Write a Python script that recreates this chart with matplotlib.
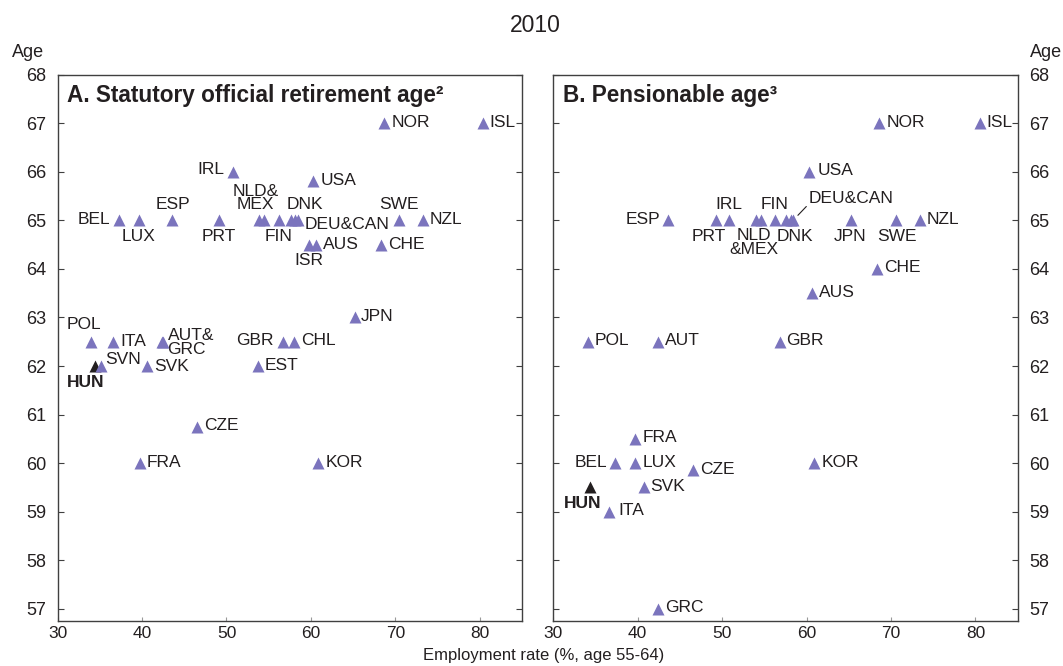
import matplotlib
matplotlib.use("Agg")
import matplotlib.pyplot as plt

plt.rcParams['font.family'] = ['Liberation Sans', 'DejaVu Sans']

MARKER_COLOR = '#7b74bd'
HUN_COLOR = '#231f20'
SPINE_COLOR = '#404040'
TEXT_COLOR = '#231f20'

# Panel A: statutory official retirement age
a_names = ['BEL', 'LUX', 'ESP', 'PRT', 'IRL', 'NLD', 'MEX', 'FIN', 'DNK', 'DEU', 'CAN',
           'USA', 'ISR', 'AUS', 'CHE', 'SWE', 'NZL', 'NOR', 'ISL',
           'POL', 'ITA', 'AUT', 'GRC', 'HUN', 'SVN', 'SVK', 'GBR', 'CHL', 'EST',
           'JPN', 'CZE', 'FRA', 'KOR']
a_emp = [37.3, 39.6, 43.6, 49.1, 50.8, 53.9, 54.5, 56.2, 57.6, 58.1, 58.5,
         60.3, 59.8, 60.6, 68.3, 70.4, 73.3, 68.7, 80.4,
         34.0, 36.6, 42.3, 42.5, 34.4, 35.1, 40.6, 56.7, 58.0, 53.7,
         65.2, 46.5, 39.7, 60.9]
a_age = [65, 65, 65, 65, 66, 65, 65, 65, 65, 65, 65,
         65.8, 64.5, 64.5, 64.5, 65, 65, 67, 67,
         62.5, 62.5, 62.5, 62.5, 62, 62, 62, 62.5, 62.5, 62,
         63, 60.75, 60, 60]

# Panel B: pensionable age
b_names = ['ESP', 'PRT', 'IRL', 'NLD', 'MEX', 'FIN', 'DNK', 'DEU', 'CAN',
           'USA', 'JPN', 'SWE', 'NZL', 'NOR', 'ISL', 'CHE', 'AUS',
           'POL', 'AUT', 'GBR', 'FRA', 'BEL', 'LUX', 'CZE', 'KOR',
           'SVK', 'HUN', 'ITA', 'GRC']
b_emp = [43.6, 49.3, 50.8, 54.0, 54.6, 56.2, 57.6, 58.1, 58.4,
         60.3, 65.2, 70.6, 73.4, 68.6, 80.5, 68.3, 60.6,
         34.1, 42.4, 56.8, 39.7, 37.3, 39.7, 46.6, 60.9,
         40.7, 34.4, 36.6, 42.4]
b_age = [65, 65, 65, 65, 65, 65, 65, 65, 65,
         66, 65, 65, 65, 67, 67, 64, 63.5,
         62.5, 62.5, 62.5, 60.5, 60, 60, 59.85, 60,
         59.5, 59.5, 59, 57]

# label placement: text, (dx, dy) in pixels, ha, va
a_labels = {
    'BEL': ('BEL', (-9, 1), 'right', 'center'),
    'LUX': ('LUX', (0, -16), 'center', 'center'),
    'ESP': ('ESP', (0, 16), 'center', 'center'),
    'PRT': ('PRT', (0, -16), 'center', 'center'),
    'IRL': ('IRL', (-9, 2), 'right', 'center'),
    'NLD': ('NLD&\nMEX', (-4, 8), 'center', 'bottom'),
    'FIN': ('FIN', (0, -16), 'center', 'center'),
    'DNK': ('DNK', (14, 16), 'center', 'center'),
    'CAN': ('DEU&CAN', (6, -4), 'left', 'center'),
    'USA': ('USA', (7, 1), 'left', 'center'),
    'ISR': ('ISR', (0, -16), 'center', 'center'),
    'AUS': ('AUS', (7, 0), 'left', 'center'),
    'CHE': ('CHE', (7, 0), 'left', 'center'),
    'SWE': ('SWE', (0, 16), 'center', 'center'),
    'NZL': ('NZL', (7, 1), 'left', 'center'),
    'NOR': ('NOR', (7, 1), 'left', 'center'),
    'ISL': ('ISL', (6, 1), 'left', 'center'),
    'POL': ('POL', (-8, 17), 'center', 'center'),
    'ITA': ('ITA', (7, 0), 'left', 'center'),
    'AUT': ('AUT&\nGRC', (6, -1), 'left', 'center'),
    'HUN': ('HUN', (-9, -16), 'center', 'center'),
    'SVN': ('SVN', (4, 7), 'left', 'center'),
    'SVK': ('SVK', (7, 0), 'left', 'center'),
    'GBR': ('GBR', (-9, 1), 'right', 'center'),
    'CHL': ('CHL', (7, 1), 'left', 'center'),
    'EST': ('EST', (7, 1), 'left', 'center'),
    'JPN': ('JPN', (6, 1), 'left', 'center'),
    'CZE': ('CZE', (7, 1), 'left', 'center'),
    'FRA': ('FRA', (7, 1), 'left', 'center'),
    'KOR': ('KOR', (7, 1), 'left', 'center'),
}
b_labels = {
    'ESP': ('ESP', (-8, 1), 'right', 'center'),
    'PRT': ('PRT', (-8, -16), 'center', 'center'),
    'IRL': ('IRL', (0, 16), 'center', 'center'),
    'NLD': ('NLD\n&MEX', (-2, -8), 'center', 'top'),
    'FIN': ('FIN', (0, 16), 'center', 'center'),
    'DNK': ('DNK', (9, -16), 'center', 'center'),
    'USA': ('USA', (8, 1), 'left', 'center'),
    'JPN': ('JPN', (0, -16), 'center', 'center'),
    'SWE': ('SWE', (1, -16), 'center', 'center'),
    'NZL': ('NZL', (7, 1), 'left', 'center'),
    'NOR': ('NOR', (7, 1), 'left', 'center'),
    'ISL': ('ISL', (7, 1), 'left', 'center'),
    'CHE': ('CHE', (7, 1), 'left', 'center'),
    'AUS': ('AUS', (7, 1), 'left', 'center'),
    'POL': ('POL', (7, 1), 'left', 'center'),
    'AUT': ('AUT', (7, 1), 'left', 'center'),
    'GBR': ('GBR', (7, 1), 'left', 'center'),
    'FRA': ('FRA', (7, 1), 'left', 'center'),
    'BEL': ('BEL', (-8, 1), 'right', 'center'),
    'LUX': ('LUX', (7, 1), 'left', 'center'),
    'CZE': ('CZE', (7, 1), 'left', 'center'),
    'KOR': ('KOR', (7, 1), 'left', 'center'),
    'SVK': ('SVK', (7, 1), 'left', 'center'),
    'HUN': ('HUN', (-8, -16), 'center', 'center'),
    'ITA': ('ITA', (9, 1), 'left', 'center'),
    'GRC': ('GRC', (7, 1), 'left', 'center'),
}


def draw_panel(ax, names, emp, age, labels, title):
    for n, x, y in zip(names, emp, age):
        col = HUN_COLOR if n == 'HUN' else MARKER_COLOR
        ax.plot(x, y, marker='^', ms=9, color=col, mec='none', zorder=3)
        if n in labels:
            txt, off, ha, va = labels[n]
            ax.annotate(txt, (x, y), xytext=off, textcoords='offset pixels',
                        ha=ha, va=va, fontsize=12.5, linespacing=0.9,
                        fontweight='bold' if n == 'HUN' else 'normal',
                        color=TEXT_COLOR)
    ax.set_xlim(30, 85)
    ax.set_ylim(56.75, 68)
    ax.set_xticks(range(30, 90, 10))
    ax.set_yticks(range(57, 69))
    ax.tick_params(axis='y', direction='in', length=4, width=0.8,
                   colors=SPINE_COLOR, labelcolor=TEXT_COLOR, labelsize=13,
                   left=True, right=True, pad=8)
    ax.tick_params(axis='x', direction='in', length=3, width=0.8,
                   colors='#999999', labelcolor=TEXT_COLOR, labelsize=12.5,
                   pad=3.5)
    for s in ax.spines.values():
        s.set_color(SPINE_COLOR)
        s.set_linewidth(1.0)
    ax.text(0.021, 0.9506, title, transform=ax.transAxes, fontsize=16.3,
            fontweight='bold', ha='left', va='baseline', color=TEXT_COLOR)


fig = plt.figure(figsize=(10.63, 6.66), dpi=100)
ax_a = fig.add_axes([0.0543, 0.0676, 0.4366, 0.8203])
ax_b = fig.add_axes([0.5205, 0.0676, 0.4369, 0.8203])

draw_panel(ax_a, a_names, a_emp, a_age, a_labels,
           'A. Statutory official retirement age\u00b2')
draw_panel(ax_b, b_names, b_emp, b_age, b_labels, 'B. Pensionable age\u00b3')
ax_b.tick_params(axis='y', labelleft=False, labelright=True)

# DEU&CAN label with leader line in panel B
i = b_names.index('CAN')
ax_b.annotate('DEU&CAN', (b_emp[i], b_age[i]), xytext=(16, 22),
              textcoords='offset pixels', ha='left', va='center',
              fontsize=12.5, color=TEXT_COLOR,
              arrowprops=dict(arrowstyle='-', lw=0.8, color=TEXT_COLOR,
                              relpos=(0, 0.15), shrinkA=0, shrinkB=5))

fig.text(0.504, 0.962, '2010', ha='center', va='center', fontsize=16.5,
         color=TEXT_COLOR)
fig.text(0.011, 0.921, 'Age', ha='left', va='center', fontsize=13,
         color=TEXT_COLOR)
fig.text(0.9995, 0.921, 'Age', ha='right', va='center', fontsize=13,
         color=TEXT_COLOR)
fig.text(0.511, 0.0155, 'Employment rate (%, age 55-64)', ha='center',
         va='center', fontsize=12, color=TEXT_COLOR)

fig.savefig('out.png', dpi=100)
